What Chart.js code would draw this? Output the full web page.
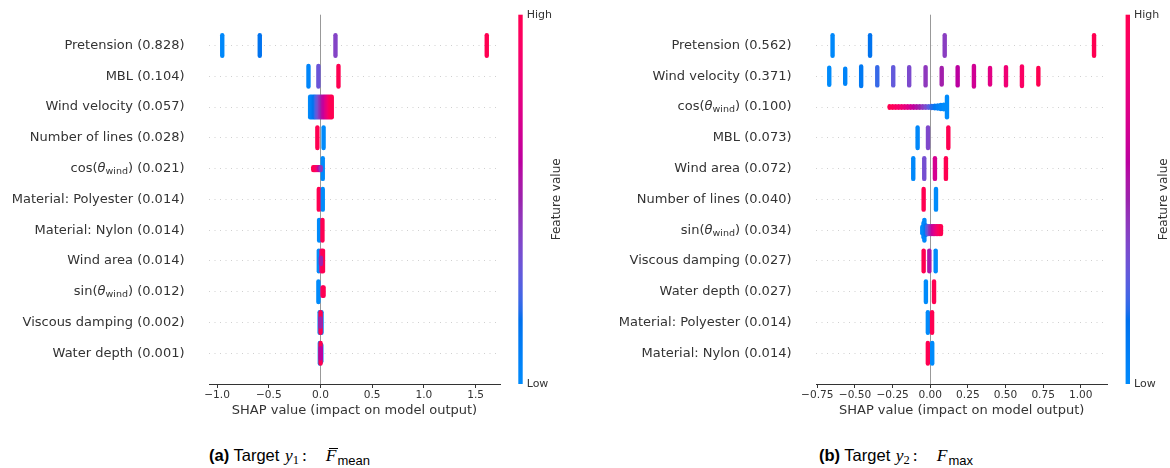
<!DOCTYPE html>
<html>
<head>
<meta charset="utf-8">
<title>SHAP summary</title>
<script src="https://cdn.jsdelivr.net/npm/chart.js@4.4.1/dist/chart.umd.min.js"></script>
<style>
  html, body { margin: 0; padding: 0; background: #fff; }
  body { position: relative; width: 1170px; height: 468px; overflow: hidden; }
  canvas { position: absolute; top: 0; }
  #chartA { left: 0; }
  #chartB { left: 600px; }
  .caption { position: absolute; top: 445px; line-height: 20px; font-family: 'Liberation Sans', Arial, sans-serif; font-size: 16.5px; color: #000; white-space: nowrap; }
  .caption .mi { font-family: 'Liberation Serif', 'DejaVu Serif', serif; font-style: italic; font-size: 17.5px; margin-left: 1px; }
  .caption .mn { font-family: 'Liberation Serif', serif; font-size: 12.5px; position: relative; top: 3px; }
  .caption .mc { font-family: 'Liberation Serif', serif; font-size: 17.5px; margin-left: 3px; margin-right: 18px; }
  .caption .sub { font-size: 13px; position: relative; top: 4px; margin-left: 1px; }
  .caption .bar { position: relative; }
  .caption .bar::before { content: ''; position: absolute; left: 3px; width: 9px; top: 3px; border-top: 1.2px solid #000; }
</style>
</head>
<body>
<canvas id="chartA" width="600" height="430"></canvas>
<canvas id="chartB" width="570" height="430"></canvas>
<div class="caption" style="left:209px"><b>(a)</b> Target <span class="mi">y</span><span class="mn">1</span><span class="mc">:</span><span class="mi bar">F</span><span class="sub">mean</span></div>
<div class="caption" style="left:819px"><b>(b)</b> Target <span class="mi">y</span><span class="mn">2</span><span class="mc">:</span><span class="mi">F</span><span class="sub">max</span></div>
<script>
// (a) target y1 = mean line force
const featuresA = ['Pretension', 'MBL', 'Wind velocity', 'Number of lines', 'cos(θ_wind)',
  'Material: Polyester', 'Material: Nylon', 'Wind area', 'sin(θ_wind)', 'Viscous damping', 'Water depth'];
const meanAbsA = [0.828, 0.104, 0.057, 0.028, 0.021, 0.014, 0.014, 0.014, 0.012, 0.002, 0.001];
const ticksA = [-1.0, -0.5, 0.0, 0.5, 1.0, 1.5];

// (b) target y2 = max line force
const featuresB = ['Pretension', 'Wind velocity', 'cos(θ_wind)', 'MBL', 'Wind area', 'Number of lines',
  'sin(θ_wind)', 'Viscous damping', 'Water depth', 'Material: Polyester', 'Material: Nylon'];
const meanAbsB = [0.562, 0.371, 0.100, 0.073, 0.072, 0.040, 0.034, 0.027, 0.027, 0.014, 0.014];
const ticksB = [-0.75, -0.50, -0.25, 0.00, 0.25, 0.50, 0.75, 1.00];

// swarm groups per feature: [SHAP value, feature value (0 = low, 1 = high), samples stacked]
const shapA = [
  [[-0.950, 0.02, 100], [-0.587, 0.16, 100], [0.145, 0.40, 100], [1.608, 1.00, 100]],
  [[-0.116, 0.03, 100], [-0.020, 0.32, 100], [0.174, 1.00, 100]],
  [[-0.100, 0.00, 100], [-0.086, 0.05, 100], [-0.072, 0.10, 100], [-0.058, 0.16, 100], [-0.044, 0.22, 100],
   [-0.030, 0.29, 100], [-0.016, 0.36, 100], [-0.002, 0.43, 100], [0.012, 0.50, 100], [0.026, 0.57, 100],
   [0.040, 0.64, 100], [0.054, 0.72, 100], [0.068, 0.80, 100], [0.082, 0.87, 100], [0.096, 0.94, 100], [0.109, 1.00, 100]],
  [[-0.030, 1.00, 100], [0.030, 0.00, 100]],
  [[0.022, 0.00, 100], [-0.070, 1.00, 14], [-0.058, 1.00, 14], [-0.046, 0.95, 14], [-0.034, 0.90, 14],
   [-0.022, 0.80, 14], [-0.010, 0.62, 14], [0.002, 0.45, 14]],
  [[-0.016, 1.00, 100], [0.022, 0.00, 100]],
  [[-0.013, 0.00, 100], [0.019, 1.00, 100]],
  [[-0.016, 0.00, 100], [0.010, 0.85, 100], [0.024, 1.00, 100], [0.004, 0.50, 30]],
  [[-0.020, 0.00, 100], [0.020, 0.90, 40], [0.030, 1.00, 40]],
  [[-0.008, 0.00, 100], [0.010, 0.05, 100], [0.001, 1.00, 100], [0.000, 0.50, 40]],
  [[-0.006, 0.00, 100], [0.008, 0.10, 80], [0.001, 1.00, 100], [0.003, 0.60, 50]]
];

const shapB = [
  [[-0.649, 0.02, 100], [-0.400, 0.16, 100], [0.096, 0.42, 100], [1.088, 1.00, 100]],
  [[-0.671, 0.00, 83], [-0.565, 0.05, 73], [-0.459, 0.12, 95], [-0.352, 0.22, 89], [-0.246, 0.30, 89],
   [-0.140, 0.37, 89], [-0.031, 0.44, 89], [0.076, 0.52, 81], [0.182, 0.60, 89], [0.290, 0.68, 100],
   [0.397, 0.76, 81], [0.503, 0.84, 89], [0.609, 0.92, 95], [0.718, 1.00, 81]],
  [[0.111, 0.00, 100], [-0.270, 1.00, 8], [-0.250, 0.97, 8], [-0.230, 0.93, 8], [-0.210, 0.89, 8],
   [-0.190, 0.85, 8], [-0.170, 0.80, 8], [-0.150, 0.74, 8], [-0.130, 0.68, 8], [-0.110, 0.62, 8],
   [-0.090, 0.56, 8], [-0.070, 0.50, 8], [-0.050, 0.43, 8], [-0.030, 0.36, 8], [-0.010, 0.28, 8],
   [0.010, 0.20, 10], [0.030, 0.13, 12], [0.050, 0.07, 15], [0.070, 0.03, 20], [0.090, 0.00, 22]],
  [[-0.084, 0.02, 100], [-0.015, 0.38, 100], [0.120, 1.00, 100]],
  [[-0.113, 0.02, 100], [-0.040, 0.35, 100], [0.031, 0.70, 100], [0.104, 1.00, 100]],
  [[-0.044, 1.00, 100], [0.038, 0.00, 100]],
  [[-0.053, 0.00, 30], [-0.045, 0.00, 70], [-0.039, 0.02, 100], [-0.030, 0.12, 45], [-0.020, 0.25, 37],
   [-0.010, 0.35, 37], [0.000, 0.45, 37], [0.010, 0.55, 37], [0.020, 0.65, 37], [0.030, 0.73, 37],
   [0.040, 0.80, 37], [0.050, 0.87, 37], [0.060, 0.93, 37], [0.071, 1.00, 37]],
  [[-0.044, 1.00, 100], [-0.006, 0.55, 100], [0.036, 0.00, 100]],
  [[-0.029, 0.00, 100], [0.025, 1.00, 100]],
  [[-0.016, 0.00, 100], [0.012, 1.00, 100]],
  [[-0.016, 1.00, 100], [0.013, 0.00, 100]]
];

const FONT = "'DejaVu Sans', sans-serif";
const INK = '#333333';

// shap's red_blue map: an LCh ramp from blue to red whose lightness dips to 40 at the middle
function shapColor(t) {
  t = Math.min(1, Math.max(0, t));
  const L = t < 0.5 ? 54 - 28 * t : 40 + 28 * (t - 0.5);
  const C = 70 + 20 * t;
  const h = 4.6588 + (0.35470565 + 2 * Math.PI - 4.6588) * t;
  const a = C * Math.cos(h), b = C * Math.sin(h);
  const fy = (L + 16) / 116, fx = a / 500 + fy, fz = fy - b / 200;
  const inv = v => (v ** 3 > 0.008856 ? v ** 3 : (v - 16 / 116) / 7.787);
  const X = 0.95047 * inv(fx), Y = inv(fy), Z = 1.08883 * inv(fz);
  const lin = [
    3.2404542 * X - 1.5371385 * Y - 0.4985314 * Z,
    -0.9692660 * X + 1.8760108 * Y + 0.0415560 * Z,
    0.0556434 * X - 0.2040259 * Y + 1.0572252 * Z
  ];
  const rgb = lin.map(v => {
    const g = v > 0.0031308 ? 1.055 * Math.pow(v, 1 / 2.4) - 0.055 : 12.92 * v;
    return Math.round(255 * Math.min(1, Math.max(0, g)));
  });
  return `rgb(${rgb[0]},${rgb[1]},${rgb[2]})`;
}

function toPoints(features, groups) {
  const pts = [];
  groups.forEach((row, i) => {
    const y = features.length - 1 - i;
    const most = Math.max(...row.map(g => g[2]));
    row.forEach(([x, c, n]) => pts.push({ x, y, c, h: n / most }));
  });
  return pts;
}

function labelRuns(name, value) {
  const base = '13px ' + FONT;
  const tail = { text: ' (' + value.toFixed(3) + ')', font: base };
  const m = name.match(/^(.*)θ_(\w+)(.*)$/);
  if (!m) return [{ text: name, font: base }, tail];
  return [
    { text: m[1], font: base },
    { text: 'θ', font: 'italic 13px ' + FONT },
    { text: m[2], font: '9.5px ' + FONT, dy: 3 },
    { text: m[3], font: base },
    tail
  ];
}

function drawRuns(ctx, runs, xRight, y) {
  let w = 0;
  runs.forEach(r => { ctx.font = r.font; r.w = ctx.measureText(r.text).width; w += r.w; });
  let x = xRight - w;
  runs.forEach(r => { ctx.font = r.font; ctx.fillText(r.text, x, y + (r.dy || 0)); x += r.w; });
}

// round ends on the stacked swarm strokes
const roundCaps = {
  id: 'roundCaps',
  beforeDatasetsDraw(chart) { chart.ctx.lineCap = 'round'; },
  afterDatasetsDraw(chart) { chart.ctx.lineCap = 'butt'; }
};

const colorbar = {
  id: 'colorbar',
  afterDraw(chart) {
    const { ctx, chartArea: { top, bottom, right } } = chart;
    const x = right + 18.3, w = 4.4;
    const g = ctx.createLinearGradient(0, bottom, 0, top);
    for (let i = 0; i <= 40; i++) g.addColorStop(i / 40, shapColor(i / 40));
    ctx.save();
    ctx.fillStyle = g;
    ctx.fillRect(x, top, w, bottom - top);
    ctx.fillStyle = INK;
    ctx.font = '11px ' + FONT;
    ctx.textAlign = 'left';
    ctx.textBaseline = 'middle';
    ctx.fillText('High', x + w + 4, top);
    ctx.fillText('Low', x + w + 4, bottom);
    ctx.translate(x + w + 34.3, (top + bottom) / 2);
    ctx.rotate(-Math.PI / 2);
    ctx.textAlign = 'center';
    ctx.font = '12px ' + FONT;
    ctx.fillText('Feature value', 0, 0);
    ctx.restore();
  }
};

function makeChart(id, features, meanAbs, groups, ticks, digits, xMin, xMax, axisWidth, rightPad) {
  const featureLabels = {
    id: 'featureLabels',
    afterDraw(chart) {
      const { ctx, chartArea } = chart;
      const yScale = chart.scales.y;
      ctx.save();
      ctx.fillStyle = INK;
      ctx.textAlign = 'left';
      ctx.textBaseline = 'middle';
      features.forEach((name, i) => {
        const y = yScale.getPixelForValue(features.length - 1 - i);
        drawRuns(ctx, labelRuns(name, meanAbs[i]), chartArea.left - 24.5, y);
      });
      ctx.restore();
    }
  };

  return new Chart(document.getElementById(id), {
    type: 'scatter',
    data: {
      datasets: [{
        data: toPoints(features, groups),
        pointStyle: 'line',
        rotation: 90,
        radius: ctx => Math.max(0.3, 10.3 * ctx.raw.h),
        hoverRadius: ctx => Math.max(0.3, 10.3 * ctx.raw.h),
        borderWidth: 4.4,
        hoverBorderWidth: 4.4,
        borderColor: ctx => shapColor(ctx.raw.c),
        backgroundColor: ctx => shapColor(ctx.raw.c)
      }]
    },
    options: {
      responsive: false,
      animation: false,
      events: [],
      layout: { padding: { left: 0, right: rightPad, top: 13, bottom: 0 } },
      plugins: { legend: { display: false }, tooltip: { enabled: false } },
      scales: {
        x: {
          type: 'linear',
          min: xMin,
          max: xMax,
          afterBuildTicks: s => { s.ticks = ticks.map(v => ({ value: v })); },
          afterFit: s => { s.height = 46; },
          ticks: {
            autoSkip: false,
            maxRotation: 0,
            padding: 1,
            color: INK,
            font: { family: FONT, size: 10.6 },
            callback: v => (v < 0 ? '\u2212' : '') + Math.abs(v).toFixed(digits)
          },
          grid: {
            color: c => (c.tick && c.tick.value === 0 ? '#999999' : 'rgba(0,0,0,0)'),
            lineWidth: 1,
            drawTicks: true,
            tickLength: 4,
            tickColor: INK,
            tickWidth: 1
          },
          border: { display: true, color: INK, width: 1 },
          title: {
            display: true,
            text: 'SHAP value (impact on model output)',
            color: INK,
            font: { family: FONT, size: 13 },
            padding: { top: 0, bottom: 12 }
          }
        },
        y: {
          type: 'linear',
          min: -1,
          max: features.length,
          afterBuildTicks: s => { s.ticks = features.map((_, i) => ({ value: i })); },
          afterFit: s => { s.width = axisWidth; },
          ticks: { display: false },
          grid: { color: '#d0d0d0', lineWidth: 1, drawTicks: false },
          border: { display: false, dash: [1, 4.5] }
        }
      }
    },
    plugins: [roundCaps, featureLabels, colorbar]
  });
}

makeChart('chartA', featuresA, meanAbsA, shapA, ticksA, 1, -1.078, 1.736, 209, 100);
makeChart('chartB', featuresB, meanAbsB, shapB, ticksB, 2, -0.759, 1.176, 216, 62.7);
</script>
</body>
</html>
